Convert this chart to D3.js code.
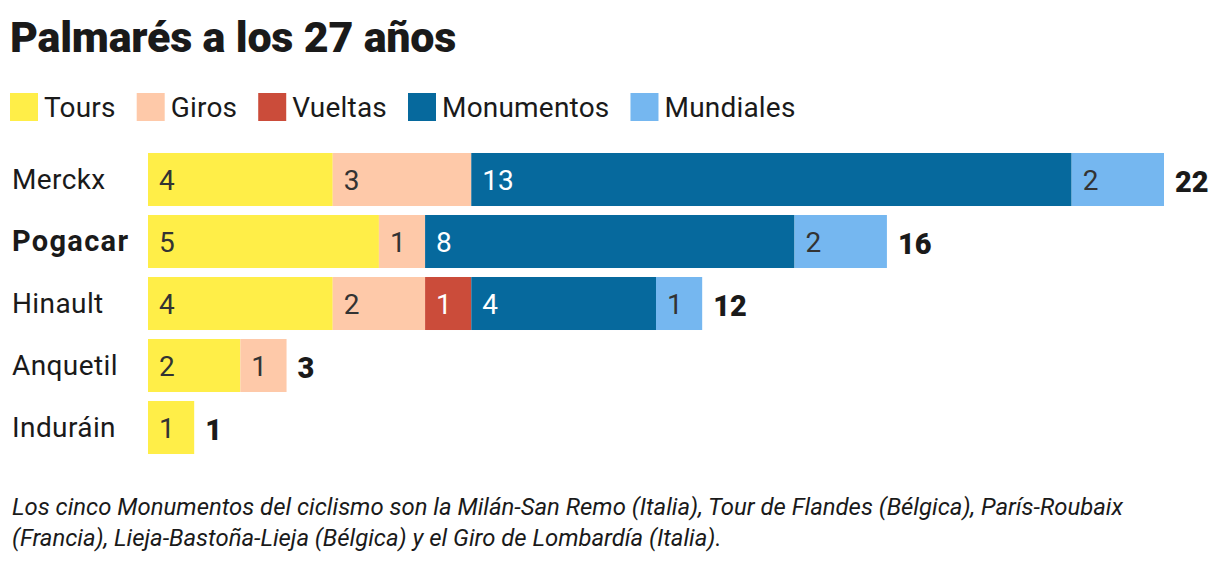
<!DOCTYPE html>
<html>
<head>
<meta charset="utf-8">
<script src="https://cdn.jsdelivr.net/npm/d3@7"></script>
<style>
  body { margin: 0; background: #fff; }
  svg text { font-family: Roboto, "Liberation Sans", sans-serif; }
</style>
</head>
<body>
<svg id="chart" width="1220" height="564"></svg>
<script>
const svg = d3.select('#chart')
const textColor = '#1a1a1a'

// data
const riders = ['Merckx', 'Pogacar', 'Hinault', 'Anquetil', 'Induráin']
const series = ['Tours', 'Giros', 'Vueltas', 'Monumentos', 'Mundiales']
const tours = [4, 5, 4, 2, 1]
const giros = [3, 1, 2, 1, 0]
const vueltas = [0, 0, 1, 0, 0]
const monumentos = [13, 8, 4, 0, 0]
const mundiales = [2, 2, 1, 0, 0]
const colors = ['#ffee48', '#fec9a9', '#cb4c3a', '#06699d', '#75b7f0']
const labelColors = ['#333', '#333', '#fff', '#fff', '#333']

const rows = riders.map((r, i) => ({
  rider: r,
  Tours: tours[i], Giros: giros[i], Vueltas: vueltas[i],
  Monumentos: monumentos[i], Mundiales: mundiales[i]
}))
rows.forEach(d => d.total = d3.sum(series, k => d[k]))

const stacked = d3.stack().keys(series)(rows)

const x = d3.scaleLinear()
  .domain([0, d3.max(rows, d => d.total)])
  .range([148, 1164])

const y = d3.scaleBand()
  .domain(riders)
  .range([148.5, 458.5])
  .paddingInner(0.145)
  .paddingOuter(0.0725)

// title
svg.append('text')
  .attr('x', 10).attr('y', 52)
  .attr('font-size', '43px').attr('font-weight', 900)
  .attr('fill', textColor)
  .style('letter-spacing', '-0.2px')
  .text('Palmarés a los 27 años')

// legend
let lx = 10
series.forEach((s, i) => {
  const g = svg.append('g').attr('transform', `translate(${lx}, 93)`)
  g.append('rect').attr('width', 28).attr('height', 28).attr('fill', colors[i])
  const t = g.append('text')
    .attr('x', 34).attr('y', 24)
    .attr('font-size', '28px').attr('fill', textColor)
    .style('letter-spacing', '0.2px')
    .text(s)
  lx += 34 + t.node().getComputedTextLength() + 21
})

// bars
const layers = svg.selectAll('g.layer')
  .data(stacked)
  .enter()
  .append('g')
    .attr('class', 'layer')
    .attr('fill', (d, i) => colors[i])

layers.selectAll('rect')
  .data(d => d.filter(p => p[1] > p[0]))
  .enter()
  .append('rect')
    .attr('x', p => x(p[0]))
    .attr('y', p => y(p.data.rider))
    .attr('width', p => x(p[1]) - x(p[0]))
    .attr('height', y.bandwidth())

layers.each(function(layer, i) {
  d3.select(this).selectAll('text')
    .data(layer.filter(p => p[1] > p[0]))
    .enter()
    .append('text')
      .attr('x', p => x(p[0]) + 11)
      .attr('y', p => y(p.data.rider) + y.bandwidth() / 2 + 10)
      .attr('font-size', '28px')
      .attr('fill', labelColors[i])
      .text(p => p[1] - p[0])
})

// rider names
svg.selectAll('text.rider')
  .data(rows)
  .enter()
  .append('text')
    .attr('class', 'rider')
    .attr('x', 12)
    .attr('y', d => y(d.rider) + y.bandwidth() / 2 + 9)
    .attr('font-size', d => d.rider === 'Pogacar' ? '29px' : '28px')
    .attr('font-weight', d => d.rider === 'Pogacar' ? 700 : 400)
    .style('letter-spacing', d => d.rider === 'Pogacar' ? '1.3px' : '0.4px')
    .attr('fill', textColor)
    .text(d => d.rider)

// totals
svg.selectAll('text.total')
  .data(rows)
  .enter()
  .append('text')
    .attr('class', 'total')
    .attr('x', d => x(d.total) + 11)
    .attr('y', d => y(d.rider) + y.bandwidth() / 2 + 12)
    .attr('font-size', '29px').attr('font-weight', 900)
    .attr('fill', textColor)
    .text(d => d.total)

// footnote
const note = [
  'Los cinco Monumentos del ciclismo son la Milán-San Remo (Italia), Tour de Flandes (Bélgica), París-Roubaix',
  '(Francia), Lieja-Bastoña-Lieja (Bélgica) y el Giro de Lombardía (Italia).'
]
svg.append('text')
  .attr('font-size', '23.9px').attr('font-style', 'italic')
  .attr('fill', textColor)
  .selectAll('tspan')
  .data(note)
  .enter()
  .append('tspan')
    .attr('x', 12)
    .attr('y', (d, i) => 515 + i * 31)
    .text(d => d)
</script>
</body>
</html>
